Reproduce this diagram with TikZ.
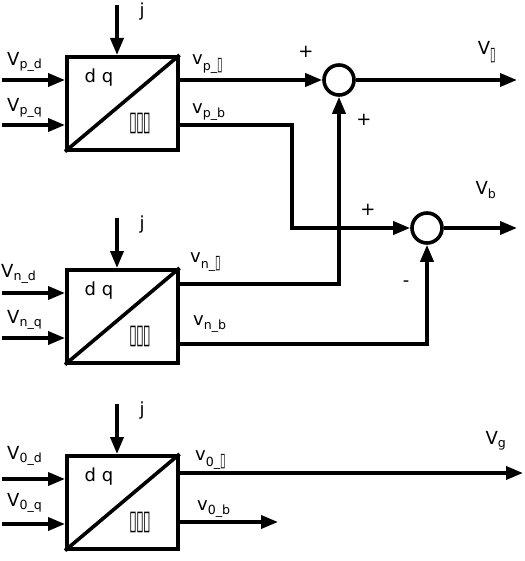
\documentclass[tikz,border=0pt]{standalone}
\usepackage{graphicx}
\usepackage{fontspec}
\setmainfont{DejaVu Sans}
\newfontfamily\boxfont{DejaVu Sans}
\usetikzlibrary{arrows.meta}
\def\tofu{\scalebox{0.8}[1.5]{\boxfont\char"25AF}}
\def\tofus{\scalebox{0.8}[1.5]{\boxfont\char"25AF}}
\def\sub#1{\textsubscript{#1}}
\tikzset{
  wire/.style={line width=3.6pt},
  sig/.style={wire, -{Triangle[length=17pt,width=13pt]}},
  dqbox/.style={draw, line width=3.6pt, minimum width=111pt, minimum height=93pt, inner sep=0pt},
  sumnode/.style={draw, circle, line width=3.6pt, minimum size=30pt, inner sep=0pt},
  lbl/.style={font=\fontsize{18}{21}\selectfont, inner sep=0pt}
}
% #1 name, #2 top edge of the block
\def\drawDqBlock#1#2{
\node[dqbox, anchor=north west] (#1) at (65,#2) {};
\draw[wire] (#1.south west) -- (#1.north east);
\node[lbl] (#1dq) at (99,#2+23) {d q};
\node[lbl] (#1abc) at (140,#2+68) {\tofu\kern-1pt\tofu\kern-1pt\tofu};
\coordinate (#1jin) at (117,#2-50);
\draw[sig] (#1jin) -- (#1jin |- #1.north);
\node[lbl] (#1j) at (142,#2-43) {j};
\coordinate (#1din) at (2,#2+25);
\coordinate (#1qin) at (2,#2+70);
\draw[sig] (#1din) -- (#1din -| #1.west);
\draw[sig] (#1qin) -- (#1qin -| #1.west);
}

\begin{document}
\begin{tikzpicture}[x=1pt,y=-1pt]
\useasboundingbox (0,0) rectangle (524,561);
\drawDqBlock{P}{55}
\drawDqBlock{N}{268}
\drawDqBlock{Z}{454}

% inputs
\node[lbl, anchor=west] (Pdl) at (7,62) {V\sub{p\_d}};
\node[lbl, anchor=west] (Pql) at (7,108) {V\sub{p\_q}};
\node[lbl, anchor=west] (Ndl) at (1,274) {V\sub{n\_d}};
\node[lbl, anchor=west] (Nql) at (7,320) {V\sub{n\_q}};
\node[lbl, anchor=west] (Zdl) at (7,456) {V\sub{0\_d}};
\node[lbl, anchor=west] (Zql) at (7,503) {V\sub{0\_q}};

% summing points
\node[sumnode] (S1) at (339,80) {};
\node[sumnode] (S2) at (427,228) {};

% outputs
\coordinate (Pa) at (176,80);
\coordinate (Pb) at (176,125);
\coordinate (Pbturn) at (292,125);
\coordinate (Na) at (176,284);
\coordinate (Nb) at (176,344);
\coordinate (Za) at (176,473);
\coordinate (Zb) at (176,522);
\coordinate (Vaout) at (517,80);
\coordinate (Vbout) at (517,228);
\coordinate (Vgout) at (523,473);
\coordinate (Zbout) at (278,522);

\draw[sig] (Pa) -- (S1);
\draw[sig] (Pb) -- (Pbturn) |- (S2);
\draw[sig] (Na) -| (S1);
\draw[sig] (Nb) -| (S2);
\draw[sig] (S1) -- (Vaout);
\draw[sig] (S2) -- (Vbout);
\draw[sig] (Za) -- (Vgout);
\draw[sig] (Zb) -- (Zbout);

\node[lbl, anchor=west] (Pal) at (192,64) {v\sub{p\_\tofus}};
\node[lbl, anchor=west] (Pbl) at (192,112) {v\sub{p\_b}};
\node[lbl, anchor=west] (Nal) at (190,262) {v\sub{n\_\tofus}};
\node[lbl, anchor=west] (Nbl) at (193,324) {v\sub{n\_b}};
\node[lbl, anchor=west] (Zal) at (195,460) {v\sub{0\_\tofus}};
\node[lbl, anchor=west] (Zbl) at (197,509) {v\sub{0\_b}};

% signs and results
\node[lbl] (s1a) at (306,52) {+};
\node[lbl] (s1b) at (364,120) {+};
\node[lbl] (s2a) at (368,210) {+};
\node[lbl] (s2b) at (406,284) {-};
\node[lbl] (Val) at (487,52) {V\sub{\tofus}};
\node[lbl] (Vbl) at (486,190) {V\sub{b}};
\node[lbl] (Vgl) at (496,441) {V\sub{g}};
\end{tikzpicture}
\end{document}
